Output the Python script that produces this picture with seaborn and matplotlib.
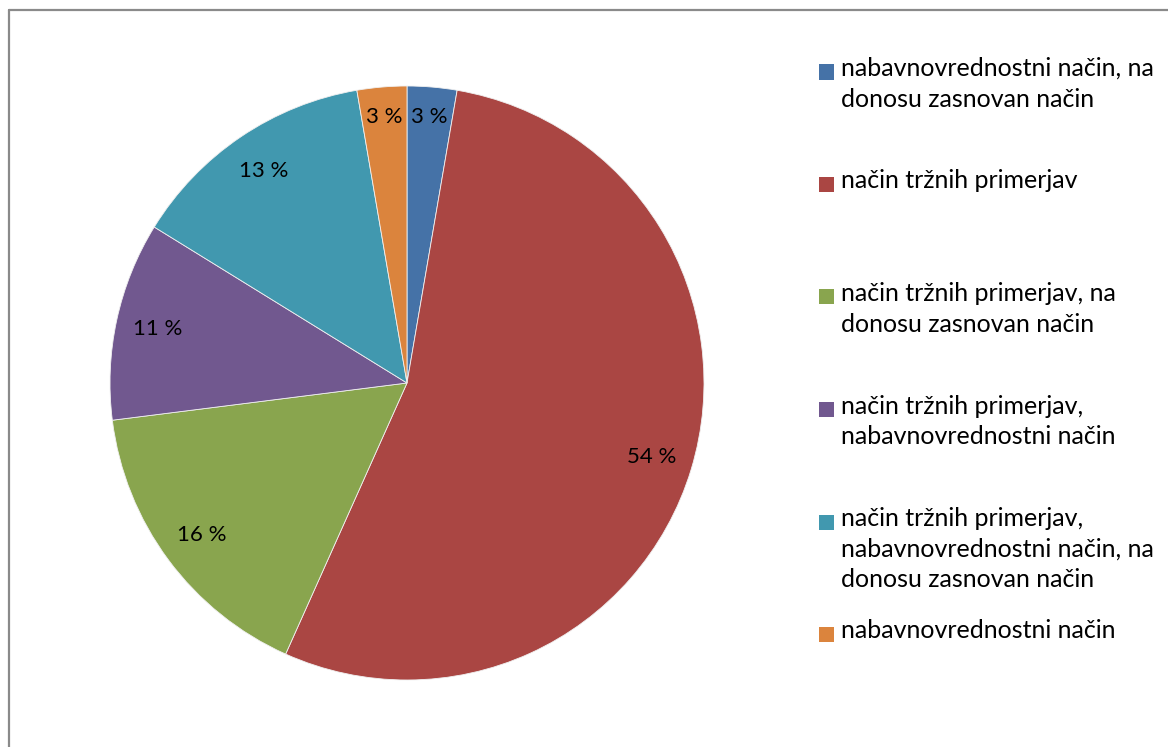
import numpy as np
import matplotlib
matplotlib.use("Agg")
import matplotlib.pyplot as plt
import seaborn as sns
from matplotlib.patches import Rectangle
from matplotlib.lines import Line2D

# chart data
categories = [
    "nabavnovrednostni način, na\ndonosu zasnovan način",
    "način tržnih primerjav",
    "način tržnih primerjav, na\ndonosu zasnovan način",
    "način tržnih primerjav,\nnabavnovrednostni način",
    "način tržnih primerjav,\nnabavnovrednostni način, na\ndonosu zasnovan način",
    "nabavnovrednostni način",
]
shares = [2.7, 54.0, 16.3, 10.8, 13.5, 2.7]
pct_labels = ["3 %", "54 %", "16 %", "11 %", "13 %", "3 %"]
colors = ["#4572A7", "#AA4643", "#89A54E", "#71588F", "#4198AF", "#DB843D"]

sns.set_theme(style="white")
plt.rcParams["font.family"] = ["Lato", "DejaVu Sans"]

W, H = 1168, 747
fig = plt.figure(figsize=(W / 100, H / 100), dpi=100)

# pie axes: centre (407, 383) px, radius 297 px
cx, cy, r = 407, 383, 297
ax = fig.add_axes([(cx - r) / W, (H - cy - r) / H, 2 * r / W, 2 * r / H])
wedges, texts = ax.pie(
    shares, colors=colors, startangle=90, counterclock=False,
    wedgeprops=dict(edgecolor="#f0f0f0", linewidth=0.6),
)
for w, lab, v in zip(wedges, pct_labels, shares):
    ang = np.deg2rad((w.theta1 + w.theta2) / 2)
    d = 0.9 if v < 5 else 0.86
    ax.text(d * np.cos(ang), d * np.sin(ang), lab, ha="center", va="center",
            fontsize=16, color="black")
ax.set_xlim(-1, 1)
ax.set_ylim(-1, 1)
ax.set_aspect("equal")
ax.axis("off")

# legend, laid out like the original (slots of equal height)
slot_top = 57
slot_h = 112.5
line_h = 30
for i, (lab, col) in enumerate(zip(categories, colors)):
    top = slot_top + i * slot_h
    first_mid = top + line_h / 2
    fig.add_artist(Rectangle((819 / W, 1 - (first_mid + 7.5) / H), 15 / W, 15 / H,
                             transform=fig.transFigure, facecolor=col, edgecolor="none"))
    fig.text(841 / W, 1 - top / H, lab, ha="left", va="top", fontsize=18,
             linespacing=1.4, color="black")

# chart area border (cut off at right and bottom)
fig.add_artist(Line2D([9 / W, 1], [1 - 10 / H, 1 - 10 / H], transform=fig.transFigure,
                      color="#8a8a8a", linewidth=1.6))
fig.add_artist(Line2D([9 / W, 9 / W], [0, 1 - 10 / H], transform=fig.transFigure,
                      color="#8a8a8a", linewidth=1.6))

fig.savefig("out.png", dpi=100)
